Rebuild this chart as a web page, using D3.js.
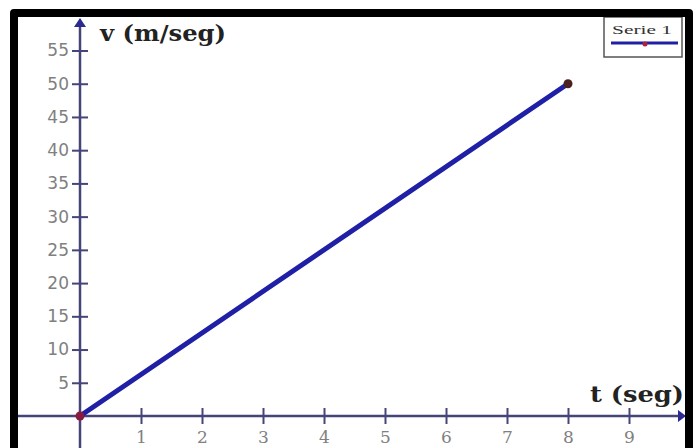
<!DOCTYPE html>
<html>
<head>
<meta charset="utf-8">
<script src="https://cdn.jsdelivr.net/npm/d3@7"></script>
<style>
  body { margin: 0; background: #fff; }
  svg { display: block; }
</style>
</head>
<body>
<script>
// data
var tValues = [0, 8];
var vValues = [0, 50];
var xTicks = [1, 2, 3, 4, 5, 6, 7, 8, 9];
var yTicks = [5, 10, 15, 20, 25, 30, 35, 40, 45, 50, 55];
var xTitle = "t (seg)";
var yTitle = "v (m/seg)";
var seriesName = "Serie 1";

var width = 696, height = 448;

var points = tValues.map(function(t, i) { return { t: t, v: vValues[i] }; });

var xScale = d3.scaleLinear().domain([0, 9]).range([80, 629]);
var yScale = d3.scaleLinear().domain([0, 55]).range([416, 50.5]);

var axisColor = "#45457a";
var lineColor = "#2020a6";

var svg = d3.select("body").append("svg")
    .attr("width", width)
    .attr("height", height);

svg.append("rect").attr("width", width).attr("height", height).attr("fill", "#fff");

// main axis lines
svg.append("line")
    .attr("x1", 18).attr("x2", 680)
    .attr("y1", yScale(0)).attr("y2", yScale(0))
    .attr("stroke", axisColor).attr("stroke-width", 2.5);
svg.append("path")
    .attr("d", "M" + 678 + "," + (yScale(0) - 6) + "L" + 686 + "," + yScale(0) + "L" + 678 + "," + (yScale(0) + 6) + "Z")
    .attr("fill", "#2a2a90");

svg.append("line")
    .attr("x1", xScale(0)).attr("x2", xScale(0))
    .attr("y1", 24).attr("y2", height)
    .attr("stroke", axisColor).attr("stroke-width", 2.5);
svg.append("path")
    .attr("d", "M" + (xScale(0) - 6) + "," + 27 + "L" + xScale(0) + "," + 18 + "L" + (xScale(0) + 6) + "," + 27 + "Z")
    .attr("fill", "#2a2a90");

// y axis ticks (crossing)
var yAxis = svg.append("g")
    .attr("transform", "translate(" + xScale(0) + ",0)")
    .call(d3.axisLeft(yScale).tickValues(yTicks).tickSize(8).tickPadding(3));
yAxis.select(".domain").remove();
yAxis.selectAll(".tick line").attr("x1", 8).attr("stroke", axisColor).attr("stroke-width", 2);
yAxis.selectAll(".tick text")
    .attr("fill", "#808080")
    .style("font-family", "'DejaVu Sans', Verdana, sans-serif")
    .style("font-size", "17px");

// x axis ticks (crossing)
var xAxis = svg.append("g")
    .attr("transform", "translate(0," + yScale(0) + ")")
    .call(d3.axisBottom(xScale).tickValues(xTicks).tickSize(8).tickPadding(7));
xAxis.select(".domain").remove();
xAxis.selectAll(".tick line").attr("y1", -8).attr("stroke", axisColor).attr("stroke-width", 2);
xAxis.selectAll(".tick text")
    .attr("fill", "#808080")
    .style("font-family", "'DejaVu Serif', serif")
    .style("font-size", "17px");

// axis titles
svg.append("text")
    .attr("x", 100).attr("y", 41)
    .attr("textLength", 126).attr("lengthAdjust", "spacingAndGlyphs")
    .style("font-family", "'DejaVu Serif', 'Liberation Serif', serif")
    .style("font-weight", "bold")
    .style("font-size", "22px")
    .attr("fill", "#222")
    .text(yTitle);

svg.append("text")
    .attr("x", 590).attr("y", 402)
    .attr("textLength", 94).attr("lengthAdjust", "spacingAndGlyphs")
    .style("font-family", "'DejaVu Serif', 'Liberation Serif', serif")
    .style("font-weight", "bold")
    .style("font-size", "22px")
    .attr("fill", "#222")
    .text(xTitle);

// series line
var line = d3.line()
    .x(function(d) { return xScale(d.t); })
    .y(function(d) { return yScale(d.v); });

svg.append("path")
    .datum(points)
    .attr("d", line)
    .attr("fill", "none")
    .attr("stroke", lineColor)
    .attr("stroke-width", 5)
    .attr("stroke-linecap", "round");

svg.selectAll(".pt")
    .data(points)
    .enter().append("circle")
    .attr("class", "pt")
    .attr("cx", function(d) { return xScale(d.t); })
    .attr("cy", function(d) { return yScale(d.v); })
    .attr("r", 4.5)
    .attr("fill", function(d, i) { return i == 0 ? "#8a1a40" : "#4a2020"; });

// legend
var legend = svg.append("g").attr("transform", "translate(604,17)");
legend.append("rect")
    .attr("width", 78).attr("height", 40)
    .attr("fill", "#fff")
    .attr("stroke", "#555").attr("stroke-width", 1.5);
legend.append("text")
    .attr("x", 8).attr("y", 17)
    .attr("textLength", 60).attr("lengthAdjust", "spacingAndGlyphs")
    .style("font-family", "'Liberation Serif', serif")
    .style("font-size", "13px")
    .attr("fill", "#333")
    .text(seriesName);
legend.append("line")
    .attr("x1", 7).attr("x2", 74)
    .attr("y1", 26).attr("y2", 26)
    .attr("stroke", lineColor).attr("stroke-width", 3);
legend.append("circle")
    .attr("cx", 41).attr("cy", 27).attr("r", 2.5)
    .attr("fill", "#b02040");

// black frame
svg.append("path")
    .attr("d", "M14," + height + "V13H689V" + height)
    .attr("fill", "none")
    .attr("stroke", "#000")
    .attr("stroke-width", 8)
    .attr("stroke-linejoin", "round");
</script>
</body>
</html>
